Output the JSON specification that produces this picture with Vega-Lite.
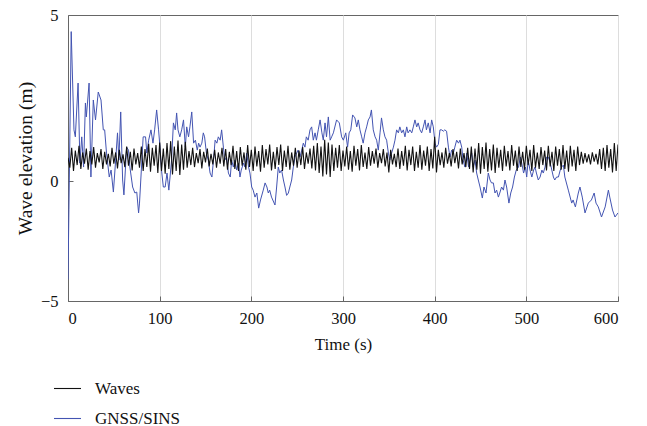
{
"$schema": "https://vega.github.io/schema/vega-lite/v6.json",
"width": 550, "height": 286,
"autosize": {"type": "none"},
"padding": {"left": 68, "top": 15, "right": 29, "bottom": 125},
"config": {
  "view": {"stroke": "#666666", "strokeWidth": 1},
  "font": "Liberation Serif",
  "axis": {"labelFont": "Liberation Serif", "titleFont": "Liberation Serif", "labelFontSize": 16.5, "titleFontSize": 17, "titleFontWeight": "normal", "labelColor": "#111", "titleColor": "#111", "domainColor": "#666666", "tickColor": "#666666", "tickSize": -5},
  "legend": {"labelFont": "Liberation Serif", "labelFontSize": 17, "labelColor": "#111"}
},
"datasets": {
"gnss": [
{"t":0,"v":-4.1},{"t":1,"v":-1.2},{"t":3.5,"v":4.5},{"t":6.5,"v":1.54},{"t":8,"v":1.33},{"t":11,"v":2.95},{"t":13,"v":0.54},{"t":15,"v":1.33},{"t":17,"v":0.42},{"t":19,"v":2.35},{"t":20,"v":1.93},{"t":23,"v":2.95},{"t":25,"v":0.12},{"t":27.6,"v":2.44},{"t":30,"v":1.84},{"t":33,"v":2.68},{"t":36,"v":2.44},{"t":38.5,"v":1.54},{"t":40,"v":1.54},{"t":42,"v":0.84},{"t":45,"v":0.12},{"t":47,"v":0.33},{"t":49.5,"v":-0.46},{"t":52,"v":0.63},{"t":54,"v":1.45},{"t":55.5,"v":0.63},{"t":57.5,"v":2.08},{"t":59.6,"v":0.03},{"t":61,"v":-0.58},{"t":64,"v":1.02},{"t":66,"v":0.93},{"t":67.5,"v":0.42},{"t":70.5,"v":-0.25},{"t":73,"v":-0.5},{"t":75,"v":-0.46},{"t":77,"v":-1.33},{"t":78,"v":-0.92},{"t":80,"v":0.33},{"t":82,"v":1.33},{"t":84.6,"v":1.33},{"t":86,"v":0.84},{"t":88,"v":1.23},{"t":90.5,"v":1.54},{"t":92.7,"v":1.14},{"t":94.5,"v":1.54},{"t":96.7,"v":2.14},{"t":98.8,"v":1.54},{"t":100.4,"v":1.0},{"t":102,"v":0.33},{"t":104,"v":-0.25},{"t":106,"v":-0.25},{"t":108,"v":0.24},{"t":110,"v":-0.38},{"t":113,"v":0.63},{"t":115,"v":1.75},{"t":117,"v":1.54},{"t":118.5,"v":2.05},{"t":120,"v":1.54},{"t":122,"v":1.33},{"t":124,"v":1.54},{"t":126,"v":1.84},{"t":128,"v":1.02},{"t":129.5,"v":1.63},{"t":131.5,"v":1.33},{"t":133,"v":1.63},{"t":135,"v":2.08},{"t":137,"v":1.14},{"t":139,"v":1.23},{"t":141,"v":0.93},{"t":142.5,"v":1.14},{"t":144,"v":1.02},{"t":146,"v":1.14},{"t":147.6,"v":1.45},{"t":149,"v":1.33},{"t":151,"v":0.84},{"t":153,"v":0.63},{"t":155,"v":0.24},{"t":157,"v":0.12},{"t":159,"v":0.72},{"t":160.5,"v":1.23},{"t":162.4,"v":1.14},{"t":164,"v":1.33},{"t":166,"v":1.23},{"t":167.6,"v":1.54},{"t":169.5,"v":1.02},{"t":171,"v":0.63},{"t":173,"v":0.72},{"t":175,"v":0.24},{"t":177,"v":0.12},{"t":178.5,"v":0.63},{"t":180.4,"v":0.42},{"t":182,"v":0.63},{"t":184,"v":0.33},{"t":186,"v":0.54},{"t":187.6,"v":0.12},{"t":189,"v":0.33},{"t":191.5,"v":0.54},{"t":193,"v":0.42},{"t":195,"v":0.84},{"t":197,"v":0.42},{"t":198.5,"v":0.24},{"t":200.4,"v":-0.25},{"t":202,"v":-0.38},{"t":204,"v":-0.67},{"t":206,"v":-0.5},{"t":208,"v":-1.13},{"t":210,"v":-0.79},{"t":213,"v":-0.38},{"t":215,"v":-0.08},{"t":217,"v":-0.25},{"t":218.5,"v":-0.5},{"t":220,"v":-0.38},{"t":222,"v":-0.67},{"t":225.8,"v":-1.0},{"t":227.6,"v":-0.25},{"t":229.4,"v":0.42},{"t":231,"v":0.24},{"t":233,"v":0.33},{"t":235,"v":0.03},{"t":236.7,"v":-0.25},{"t":238.5,"v":-0.6},{"t":240.4,"v":-0.5},{"t":242,"v":-0.25},{"t":244,"v":0.03},{"t":245.8,"v":0.42},{"t":247.6,"v":0.72},{"t":249.5,"v":0.84},{"t":251,"v":0.93},{"t":253,"v":0.72},{"t":255,"v":0.93},{"t":256.7,"v":1.14},{"t":258.5,"v":1.02},{"t":260,"v":1.33},{"t":262,"v":1.23},{"t":264,"v":1.54},{"t":265.8,"v":1.63},{"t":267.6,"v":1.23},{"t":269.5,"v":1.45},{"t":271,"v":1.23},{"t":273,"v":1.54},{"t":275,"v":1.84},{"t":277,"v":1.45},{"t":278.5,"v":1.23},{"t":280.4,"v":1.75},{"t":282,"v":1.33},{"t":284,"v":1.93},{"t":286,"v":1.23},{"t":287.6,"v":1.33},{"t":289.5,"v":1.45},{"t":293,"v":1.84},{"t":296,"v":1.75},{"t":298.5,"v":1.33},{"t":300.4,"v":1.23},{"t":303,"v":1.45},{"t":305,"v":1.02},{"t":306.7,"v":1.45},{"t":308.5,"v":1.54},{"t":310.5,"v":1.99},{"t":313,"v":1.9},{"t":315,"v":1.63},{"t":316.7,"v":1.84},{"t":318.5,"v":1.54},{"t":320.4,"v":1.33},{"t":322,"v":1.14},{"t":324,"v":1.45},{"t":325.8,"v":1.63},{"t":327.6,"v":1.84},{"t":329.5,"v":1.93},{"t":331,"v":2.14},{"t":333,"v":1.54},{"t":335,"v":1.33},{"t":336.7,"v":1.23},{"t":338.5,"v":0.93},{"t":340.4,"v":1.45},{"t":342,"v":1.9},{"t":344,"v":1.54},{"t":345.8,"v":1.33},{"t":347.6,"v":1.23},{"t":349.5,"v":0.84},{"t":351,"v":0.63},{"t":353,"v":0.84},{"t":355,"v":1.02},{"t":356.7,"v":1.23},{"t":358.5,"v":1.54},{"t":360.4,"v":1.45},{"t":362,"v":1.63},{"t":364,"v":1.45},{"t":365.8,"v":1.54},{"t":367.6,"v":1.33},{"t":369.5,"v":1.63},{"t":371,"v":1.45},{"t":373,"v":1.54},{"t":375,"v":1.45},{"t":376.7,"v":1.63},{"t":378.5,"v":1.84},{"t":380.4,"v":1.63},{"t":382,"v":1.75},{"t":384,"v":1.54},{"t":385.8,"v":1.45},{"t":387.6,"v":1.63},{"t":389.5,"v":1.84},{"t":391,"v":1.54},{"t":393,"v":1.75},{"t":395,"v":1.45},{"t":396.7,"v":1.84},{"t":398.5,"v":1.63},{"t":400.4,"v":1.14},{"t":402,"v":1.02},{"t":404,"v":1.1},{"t":405.8,"v":1.54},{"t":407.6,"v":1.54},{"t":409.5,"v":1.5},{"t":411,"v":1.54},{"t":413,"v":1.5},{"t":415,"v":1.02},{"t":416.7,"v":0.72},{"t":418.5,"v":0.93},{"t":420.4,"v":0.84},{"t":422,"v":1.02},{"t":424,"v":1.23},{"t":426,"v":1.14},{"t":427.6,"v":1.23},{"t":429.5,"v":1.02},{"t":431,"v":0.63},{"t":433,"v":0.42},{"t":435,"v":0.84},{"t":437,"v":0.42},{"t":438.5,"v":0.63},{"t":440.4,"v":0.84},{"t":442,"v":0.42},{"t":444,"v":0.63},{"t":445.8,"v":0.24},{"t":447.6,"v":0.03},{"t":449.5,"v":-0.25},{"t":452,"v":-0.71},{"t":453.8,"v":-0.25},{"t":456,"v":-0.5},{"t":458.5,"v":0.24},{"t":460.4,"v":0.03},{"t":462,"v":-0.08},{"t":464,"v":-0.08},{"t":465.8,"v":-0.5},{"t":467.6,"v":-0.38},{"t":469.5,"v":-0.67},{"t":471,"v":-0.5},{"t":473,"v":-0.25},{"t":475,"v":-0.38},{"t":476.7,"v":0.03},{"t":478.5,"v":-0.25},{"t":481,"v":-0.92},{"t":483,"v":-0.5},{"t":485,"v":-0.25},{"t":487,"v":0.12},{"t":489,"v":0.33},{"t":491.5,"v":0.42},{"t":493.5,"v":0.72},{"t":495,"v":0.54},{"t":497,"v":0.24},{"t":499,"v":0.42},{"t":500.4,"v":0.12},{"t":502,"v":0.63},{"t":504,"v":0.33},{"t":506,"v":0.12},{"t":508,"v":0.33},{"t":509.5,"v":0.42},{"t":511,"v":0.24},{"t":513,"v":0.03},{"t":515,"v":0.12},{"t":517,"v":0.33},{"t":518.5,"v":0.24},{"t":520.4,"v":0.42},{"t":522,"v":0.72},{"t":524,"v":0.72},{"t":526,"v":0.55},{"t":529.5,"v":0.12},{"t":531,"v":0.03},{"t":533,"v":0.12},{"t":535,"v":0.12},{"t":537,"v":0.33},{"t":538.5,"v":0.42},{"t":540.4,"v":0.48},{"t":542,"v":0.12},{"t":545.8,"v":-0.38},{"t":549.5,"v":-0.92},{"t":551,"v":-0.79},{"t":553.5,"v":-1.08},{"t":556.7,"v":-0.5},{"t":558.5,"v":-0.25},{"t":561,"v":-0.67},{"t":564,"v":-1.33},{"t":567.6,"v":-0.92},{"t":571,"v":-0.79},{"t":574,"v":-0.5},{"t":576,"v":-0.92},{"t":578.5,"v":-1.08},{"t":582,"v":-1.5},{"t":586,"v":-1.08},{"t":589.5,"v":-0.38},{"t":591,"v":-0.67},{"t":594,"v":-1.21},{"t":596.7,"v":-1.5},{"t":600,"v":-1.33}
],
"waves": [
{"t":0,"v":0.7},{"t":2,"v":0.4},{"t":4,"v":1.0},{"t":6,"v":0.3},{"t":8,"v":0.92},{"t":10,"v":0.48},{"t":12,"v":1.06},{"t":14,"v":0.36},{"t":16,"v":0.86},{"t":18,"v":0.52},{"t":20,"v":0.98},
{"t":22,"v":0.34},{"t":24,"v":0.9},{"t":26,"v":0.5},{"t":28,"v":1.02},{"t":30,"v":0.4},{"t":32,"v":0.84},{"t":34,"v":0.56},{"t":36,"v":0.96},{"t":38,"v":0.36},{"t":40,"v":0.88},
{"t":42,"v":0.5},{"t":44,"v":0.82},{"t":46,"v":0.44},{"t":48,"v":1.0},{"t":50,"v":0.52},{"t":52,"v":0.86},{"t":54,"v":0.38},{"t":56,"v":0.94},{"t":58,"v":0.54},{"t":60,"v":0.8},
{"t":62,"v":0.42},{"t":64,"v":1.04},{"t":66,"v":0.46},{"t":68,"v":0.88},{"t":70,"v":0.32},{"t":72,"v":0.98},{"t":74,"v":0.5},{"t":76,"v":0.84},{"t":78,"v":0.4},{"t":80,"v":1.04},
{"t":82,"v":0.3},{"t":84,"v":0.96},{"t":86,"v":0.42},{"t":88,"v":1.12},{"t":90,"v":0.28},{"t":92,"v":1.0},{"t":94,"v":0.46},{"t":96,"v":1.08},{"t":98,"v":0.24},{"t":100,"v":1.16},
{"t":102,"v":0.3},{"t":104,"v":0.98},{"t":106,"v":0.22},{"t":108,"v":1.14},{"t":110,"v":0.36},{"t":112,"v":1.2},{"t":114,"v":0.2},{"t":116,"v":1.04},{"t":118,"v":0.3},{"t":120,"v":1.22},{"t":122,"v":0.18},{"t":124,"v":1.1},{"t":126,"v":0.34},{"t":128,"v":1.18},{"t":130,"v":0.4},
{"t":132,"v":0.9},{"t":134,"v":0.48},{"t":136,"v":1.0},{"t":138,"v":0.42},{"t":140,"v":0.84},{"t":142,"v":0.54},{"t":144,"v":0.96},{"t":146,"v":0.38},{"t":148,"v":0.88},{"t":150,"v":0.56},{"t":152,"v":0.98},{"t":154,"v":0.44},{"t":156,"v":0.82},{"t":158,"v":0.5},{"t":160,"v":0.94},{"t":162,"v":0.4},{"t":164,"v":0.86},{"t":166,"v":0.52},{"t":168,"v":1.0},{"t":170,"v":0.44},
{"t":172,"v":0.96},{"t":174,"v":0.34},{"t":176,"v":0.88},{"t":178,"v":0.48},{"t":180,"v":1.06},{"t":182,"v":0.36},{"t":184,"v":0.9},{"t":186,"v":0.3},{"t":188,"v":1.02},{"t":190,"v":0.46},{"t":192,"v":0.86},{"t":194,"v":0.34},{"t":196,"v":1.08},{"t":198,"v":0.42},{"t":200,"v":0.94},
{"t":202,"v":0.3},{"t":204,"v":1.04},{"t":206,"v":0.44},{"t":208,"v":0.9},{"t":210,"v":0.28},{"t":212,"v":1.08},{"t":214,"v":0.4},{"t":216,"v":0.96},{"t":218,"v":0.5},{"t":220,"v":1.1},{"t":222,"v":0.32},{"t":224,"v":0.88},{"t":226,"v":0.36},{"t":228,"v":1.02},{"t":230,"v":0.48},{"t":232,"v":1.1},{"t":234,"v":0.3},{"t":236,"v":0.92},{"t":238,"v":0.42},{"t":240,"v":1.06},{"t":242,"v":0.34},{"t":244,"v":0.86},{"t":246,"v":0.46},{"t":248,"v":1.0},{"t":250,"v":0.4},
{"t":252,"v":0.92},{"t":254,"v":0.48},{"t":256,"v":1.02},{"t":258,"v":0.36},{"t":260,"v":0.86},{"t":262,"v":0.52},{"t":264,"v":0.98},{"t":266,"v":0.38},{"t":268,"v":1.06},{"t":270,"v":0.32},
{"t":272,"v":1.14},{"t":274,"v":0.24},{"t":276,"v":1.04},{"t":278,"v":0.14},{"t":280,"v":1.24},{"t":282,"v":0.2},{"t":284,"v":1.16},{"t":286,"v":0.12},{"t":288,"v":1.1},{"t":290,"v":0.3},
{"t":292,"v":1.0},{"t":294,"v":0.4},{"t":296,"v":1.08},{"t":298,"v":0.3},{"t":300,"v":0.92},{"t":302,"v":0.44},{"t":304,"v":1.04},{"t":306,"v":0.34},{"t":308,"v":0.9},{"t":310,"v":0.28},{"t":312,"v":1.06},{"t":314,"v":0.46},{"t":316,"v":0.96},{"t":318,"v":0.32},{"t":320,"v":1.08},{"t":322,"v":0.42},{"t":324,"v":0.86},{"t":326,"v":0.36},{"t":328,"v":1.02},{"t":330,"v":0.46},
{"t":332,"v":0.9},{"t":334,"v":0.52},{"t":336,"v":0.98},{"t":338,"v":0.4},{"t":340,"v":0.84},{"t":342,"v":0.54},{"t":344,"v":0.96},{"t":346,"v":0.44},{"t":348,"v":0.86},{"t":350,"v":0.26},{"t":352,"v":0.94},{"t":354,"v":0.5},{"t":356,"v":0.82},{"t":358,"v":0.42},{"t":360,"v":0.98},
{"t":362,"v":0.36},{"t":364,"v":0.9},{"t":366,"v":0.46},{"t":368,"v":1.06},{"t":370,"v":0.32},{"t":372,"v":0.94},{"t":374,"v":0.48},{"t":376,"v":1.04},{"t":378,"v":0.3},{"t":380,"v":0.88},{"t":382,"v":0.4},{"t":384,"v":1.08},{"t":386,"v":0.34},{"t":388,"v":0.92},{"t":390,"v":0.46},{"t":392,"v":1.04},{"t":394,"v":0.3},{"t":396,"v":0.96},{"t":398,"v":0.38},{"t":400,"v":1.33},{"t":402,"v":0.26},
{"t":404,"v":0.94},{"t":406,"v":0.48},{"t":408,"v":0.86},{"t":410,"v":0.4},{"t":412,"v":1.0},{"t":414,"v":0.52},{"t":416,"v":0.84},{"t":418,"v":0.44},{"t":420,"v":0.96},{"t":422,"v":0.54},{"t":424,"v":0.88},{"t":426,"v":0.38},{"t":428,"v":0.98},{"t":430,"v":0.5},{"t":432,"v":0.84},{"t":434,"v":0.42},{"t":436,"v":1.0},{"t":438,"v":0.36},{"t":440,"v":1.04},
{"t":442,"v":0.26},{"t":444,"v":0.98},{"t":446,"v":0.34},{"t":448,"v":1.14},{"t":450,"v":0.22},{"t":452,"v":1.02},{"t":454,"v":0.36},{"t":456,"v":1.16},{"t":458,"v":0.28},{"t":460,"v":0.96},{"t":462,"v":0.32},{"t":464,"v":1.1},{"t":466,"v":0.24},{"t":468,"v":1.0},{"t":470,"v":0.4},
{"t":472,"v":0.94},{"t":474,"v":0.3},{"t":476,"v":1.06},{"t":478,"v":0.44},{"t":480,"v":0.9},{"t":482,"v":0.32},{"t":484,"v":1.08},{"t":486,"v":0.46},{"t":488,"v":0.92},{"t":490,"v":0.3},{"t":492,"v":1.04},{"t":494,"v":0.42},{"t":496,"v":0.88},{"t":498,"v":0.34},{"t":500,"v":1.06},{"t":502,"v":0.48},{"t":504,"v":0.94},{"t":506,"v":0.3},{"t":508,"v":1.08},{"t":510,"v":0.4},{"t":512,"v":0.86},{"t":514,"v":0.36},{"t":516,"v":1.02},{"t":518,"v":0.48},{"t":520,"v":0.92},{"t":522,"v":0.32},{"t":524,"v":1.06},{"t":526,"v":0.44},{"t":528,"v":0.88},{"t":530,"v":0.3},{"t":532,"v":1.04},{"t":534,"v":0.46},{"t":536,"v":0.96},{"t":538,"v":0.34},{"t":540,"v":1.08},
{"t":542,"v":0.36},{"t":544,"v":0.92},{"t":546,"v":0.28},{"t":548,"v":1.06},{"t":550,"v":0.44},{"t":552,"v":0.94},{"t":554,"v":0.3},{"t":556,"v":1.04},{"t":558,"v":0.48},{"t":560,"v":0.88},
{"t":562,"v":0.52},{"t":564,"v":0.84},{"t":566,"v":0.56},{"t":568,"v":0.8},{"t":570,"v":0.5},{"t":572,"v":0.86},{"t":574,"v":0.58},{"t":576,"v":0.82},{"t":578,"v":0.5},{"t":580,"v":0.96},
{"t":582,"v":0.36},{"t":584,"v":1.0},{"t":586,"v":0.3},{"t":588,"v":1.08},{"t":590,"v":0.4},{"t":592,"v":0.96},{"t":594,"v":0.26},{"t":596,"v":1.14},{"t":598,"v":0.3},{"t":600,"v":1.1}
]
},
"layer": [
{
  "data": {"name": "gnss"},
  "mark": {"type": "line", "strokeWidth": 1, "clip": true},
  "encoding": {
    "x": {"field": "t", "type": "quantitative", "title": "Time (s)",
          "scale": {"domain": [0, 600], "nice": false},
          "axis": {"values": [0, 100, 200, 300, 400, 500, 600], "grid": true, "gridColor": "#dddddd", "labelPadding": 14, "titlePadding": 10}},
    "y": {"field": "v", "type": "quantitative", "title": "Wave elevation (m)",
          "scale": {"domain": [-5, 0, 5], "range": [286, 166, 0], "nice": false, "zero": false},
          "axis": {"values": [-5, 0, 5], "grid": false, "labelPadding": 15, "titlePadding": 5, "titleFontSize": 19.5}},
    "color": {"datum": "GNSS/SINS", "type": "nominal",
              "scale": {"domain": ["Waves", "GNSS/SINS"], "range": ["#111111", "#4354b2"]},
              "legend": {"title": null, "orient": "none", "legendX": -15, "legendY": 359, "direction": "vertical", "symbolType": "stroke", "symbolSize": 729, "symbolStrokeWidth": 1.1, "labelOffset": 13, "rowPadding": 7, "padding": 0}}
  }
},
{
  "data": {"name": "waves"},
  "mark": {"type": "line", "strokeWidth": 1.1, "clip": true},
  "encoding": {
    "x": {"field": "t", "type": "quantitative"},
    "y": {"field": "v", "type": "quantitative"},
    "color": {"datum": "Waves", "type": "nominal"}
  }
}
]
}
